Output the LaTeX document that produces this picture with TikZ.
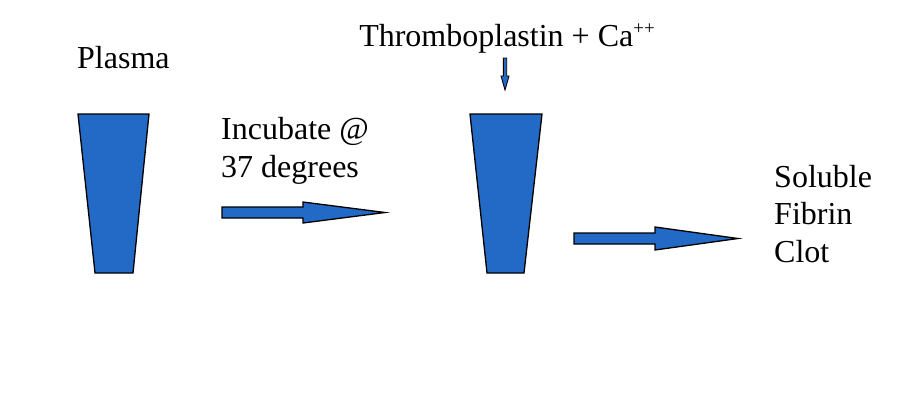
\documentclass[tikz,border=0pt]{standalone}
\usepackage{fontspec}
\setmainfont{Liberation Serif}
\definecolor{tubeblue}{RGB}{34,106,198}
\begin{document}
\begin{tikzpicture}[x=1pt,y=-1pt,
  shapefill/.style={fill=tubeblue,draw=black,line width=1.3pt,line join=miter},
  lbl/.style={inner sep=0pt,font=\fontsize{32}{37.5}\selectfont,align=left}]
\useasboundingbox[fill=white] (0,0) rectangle (900,400);
% labels
\node[lbl,anchor=base west] (plasma) at (77,68) {Plasma};
\node[lbl,anchor=base] (thromb) at (507,46) {Thromboplastin + Ca\raisebox{12pt}{\fontsize{19}{19}\selectfont ++}};
\node[lbl,anchor=base west] (incub) at (221,177) {Incubate @\\[0.5pt]37 degrees};
\node[lbl,anchor=base west] (clot) at (774,262) {Soluble\\Fibrin\\Clot};
% tubes
\draw[shapefill] (78,114) -- (149,114) -- (133,273) -- (95,273) -- cycle;
\draw[shapefill] (470,114) -- (542,114) -- (524,273) -- (487,273) -- cycle;
% block arrows
\draw[shapefill] (222,207) -- (303,207) -- (303,202) -- (385,212.5) -- (303,223) -- (303,218) -- (222,218) -- cycle;
\draw[shapefill] (574,233) -- (655,233) -- (655,227) -- (738,238.5) -- (655,250) -- (655,244) -- (574,244) -- cycle;
\draw[shapefill,line width=0.9pt] (503.3,58) -- (506.7,58) -- (506.7,76) -- (509,76) -- (505,90) -- (501,76) -- (503.3,76) -- cycle;
\end{tikzpicture}
\end{document}
